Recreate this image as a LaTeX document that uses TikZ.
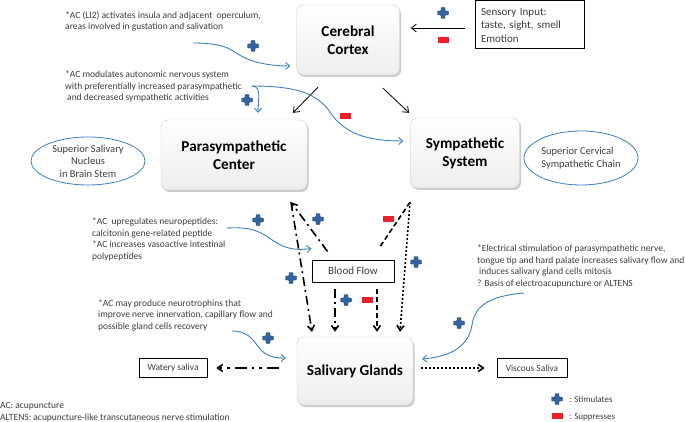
\documentclass[tikz,border=0pt]{standalone}
\usepackage{fontspec}
\setmainfont{Carlito}
\usepackage{tikz}
\usetikzlibrary{shapes, arrows.meta, positioning, shadows}
\definecolor{linkblue}{RGB}{60,125,196}
\definecolor{stimblue}{RGB}{52,100,160}
\definecolor{suppred}{RGB}{232,32,42}
\definecolor{notegray}{RGB}{60,60,60}
\tikzset{
  stim/.pic={\fill[stimblue, draw=stimblue!70!black, line width=0.4pt, rounded corners=0.6pt]
    (-2,-5.5) -- (2,-5.5) -- (2,-2) -- (5.5,-2) -- (5.5,2) -- (2,2) -- (2,5.5)
    -- (-2,5.5) -- (-2,2) -- (-5.5,2) -- (-5.5,-2) -- (-2,-2) -- cycle;},
  supp/.pic={\fill[suppred] (-5.5,-2.6) rectangle (5.5,2.6);}
}

\begin{document}
\begin{tikzpicture}[x=1pt, y=-1pt,
  mainbox/.style={rectangle, rounded corners=7pt, draw=gray!40, top color=white, bottom color=gray!14,
    drop shadow={shadow xshift=1.5pt, shadow yshift=-2pt, opacity=0.4},
    font=\bfseries\fontsize{15.2}{18}\selectfont, align=center},
  plainbox/.style={rectangle, draw, thin, inner sep=0pt},
  oval/.style={ellipse, draw=linkblue, line width=0.8pt, align=center, inner sep=0pt,
    font=\fontsize{10.5}{12.5}\selectfont, text=notegray},
  note/.style={anchor=base west, align=left, inner sep=0pt, text=notegray,
    font=\fontsize{9.5}{11.5}\selectfont},
  blackarrow/.style={-{Straight Barb[length=5pt, width=8pt]}, thick},
  bluearrow/.style={-{Straight Barb[length=4pt, width=7pt]}, linkblue, line width=0.9pt},
  nerve/.style={line width=1.6pt},
  tipdown/.style={-{Straight Barb[length=5pt, width=7pt]}},
  dashdot/.style={dash pattern=on 9pt off 4pt on 2pt off 4pt},
  dashdotdot/.style={dash pattern=on 12pt off 5pt on 2.5pt off 5pt on 2.5pt off 5pt},
  shortdash/.style={dash pattern=on 5pt off 3pt},
  dots/.style={dash pattern=on 2pt off 2pt}]
\useasboundingbox (0,0) rectangle (685,422);

% main boxes
\node[mainbox, minimum width=103pt, minimum height=70pt] (cortex) at (348,40) {Cerebral\\Cortex};
\node[mainbox, minimum width=146pt, minimum height=70pt] (para) at (234,155) {Parasympathetic\\Center};
\node[mainbox, minimum width=109pt, minimum height=70pt] (symp) at (465,153) {Sympathetic\\System};
\node[mainbox, minimum width=116pt, minimum height=68pt] (saliv) at (355,371) {Salivary Glands};

% plain boxes
\node[plainbox, line width=1pt, minimum width=109pt, minimum height=48pt, align=left,
  text width=97pt, font=\fontsize{11}{13.5}\selectfont, text=notegray] (sensory) at (529.5,25)
  {Sensory Input:\\taste, sight, smell\\Emotion};
\node[plainbox, line width=1pt, minimum width=82pt, minimum height=22pt,
  font=\fontsize{11}{12}\selectfont, text=notegray] (blood) at (353,271) {Blood Flow};
\node[plainbox, line width=0.7pt, minimum width=68pt, minimum height=19pt,
  font=\fontsize{9.4}{10}\selectfont, text=notegray] (watery) at (173,368) {Watery saliva};
\node[plainbox, line width=0.7pt, minimum width=70pt, minimum height=19pt,
  font=\fontsize{9.4}{10}\selectfont, text=notegray] (viscous) at (532,368) {Viscous Saliva};

% ellipses
\node[oval, minimum width=114pt, minimum height=48pt] (nucleus) at (88,161)
  {Superior Salivary\\Nucleus\\in Brain Stem};
\node[oval, minimum width=114pt, minimum height=54pt, align=left] (chain) at (581,158)
  {Superior Cervical\\Sympathetic Chain};

% notes (anchored at the baseline of their last line)
\node[note] (n1) at (65,30) {*AC (LI2) activates insula and adjacent\ \ operculum,\\areas involved in gustation and salivation};
\node[note] (n2) at (65,101) {*AC modulates autonomic nervous system\\with preferentially increased parasympathetic\\\hspace{2pt}and decreased sympathetic activities};
\node[note] (n3) at (92,259) {*AC\ \ upregulates neuropeptides:\\calcitonin gene-related peptide\\*AC increases vasoactive intestinal\\polypeptides};
\node[note] (n4) at (98,329) {*AC may produce neurotrophins that\\improve nerve innervation, capillary flow and\\possible gland cells recovery};
\node[note] (n5) at (477,286) {*Electrical stimulation of parasympathetic nerve,\\tongue tip and hard palate increases salivary flow and\\\hspace{2pt}induces salivary gland cells mitosis\\? Basis of electroacupuncture or ALTENS};
\node[note] (abbr) at (0,420) {AC: acupuncture\\ALTENS: acupuncture-like transcutaneous nerve stimulation};

% legend
\pic at (557,399) {stim};
\pic at (557,416) {supp};
\node[note, font=\fontsize{9}{11}\selectfont] (stimtxt) at (569,402) {: Stimulates};
\node[note, font=\fontsize{9}{11}\selectfont] (supptxt) at (569,419) {: Suppresses};

% solid black arrows
\draw[blackarrow] ([xshift=-10pt, yshift=-3pt]sensory.west) -- ([xshift=11pt, yshift=-3pt]sensory.west -| cortex.east);
\draw[blackarrow] ([xshift=-30pt, yshift=-12pt]cortex.south) -- ([xshift=59pt, yshift=7pt]para.north);
\draw[blackarrow] ([xshift=35pt, yshift=-13pt]cortex.south) -- ([xshift=-56pt, yshift=5pt]symp.north);

% blue arrows from the notes
\coordinate (n1end) at (193,43);
\coordinate (n2end) at (252,86);
\coordinate (n3end) at (227,228);
\coordinate (n4end) at (232,331);
\coordinate (n5end) at (524,293);
\draw[bluearrow] (n1end) .. controls (230,43) and (232,52) .. (245,58)
  .. controls (258,64) and (275,66) .. ([xshift=-6pt, yshift=-26pt]cortex.west);
\draw[bluearrow] (n2end) .. controls (262,86) and (258,100) .. ([xshift=24pt, yshift=7pt]para.north);
\draw[bluearrow] (n2end) .. controls (300,86) and (318,95) .. (330,112)
  .. controls (345,135) and (370,141) .. ([xshift=-7pt, yshift=12pt]symp.west);
\draw[bluearrow] (n3end) .. controls (258,226) and (265,236) .. (277,243)
  .. controls (288,250) and (300,250) .. ([yshift=11pt]blood.north west);
\draw[bluearrow] (n4end) .. controls (252,331) and (255,345) .. (262,351)
  .. controls (270,358) and (278,358) .. ([xshift=-11pt, yshift=13pt]saliv.west);
\draw[bluearrow] (n5end) .. controls (490,296) and (475,305) .. (472,325)
  .. controls (468,350) and (445,357) .. ([xshift=9pt, yshift=12pt]saliv.east);

% nerve and blood pathways
\draw[nerve, dashdot, tipdown] ([xshift=16pt, yshift=8pt]blood.north west) -- ([xshift=57pt, yshift=-12pt]para.south);
\draw[nerve, dashdot, tipdown] ([xshift=57pt, yshift=-12pt]para.south) -- ([xshift=-43pt, yshift=5pt]saliv.north);
\draw[nerve, dashdot, tipdown] ([xshift=-18pt, yshift=-6pt]blood.south) -- ([xshift=-20pt, yshift=5pt]saliv.north);
\draw[nerve, shortdash, tipdown] ([xshift=24pt, yshift=-6pt]blood.south) -- ([xshift=22pt, yshift=5pt]saliv.north);
\draw[nerve, shortdash] ([xshift=-55pt, yshift=-14pt]symp.south) -- ([xshift=-15pt, yshift=12pt]blood.north east);
\draw[nerve, dots, tipdown] ([xshift=-55pt, yshift=-14pt]symp.south) -- ([xshift=45pt, yshift=5pt]saliv.north);
\draw[nerve, dashdotdot, tipdown] ([xshift=-18pt]saliv.west |- watery.east) -- ([xshift=9pt]watery.east);
\draw[nerve, dots, tipdown] ([xshift=8pt]saliv.east |- viscous.west) -- ([xshift=-12pt]viscous.west);

% stimulates / suppresses marks
\pic at (443,13) {stim};
\pic at (443,40) {supp};
\pic at (253,46) {stim};
\pic at (247,100) {stim};
\pic at (345,116) {supp};
\pic at (258,220) {stim};
\pic at (318,219) {stim};
\pic at (388,219) {supp};
\pic at (416,262) {stim};
\pic at (291,278) {stim};
\pic at (346,300) {stim};
\pic at (367,300) {supp};
\pic at (268,338) {stim};
\pic at (459,323) {stim};
\end{tikzpicture}
\end{document}
